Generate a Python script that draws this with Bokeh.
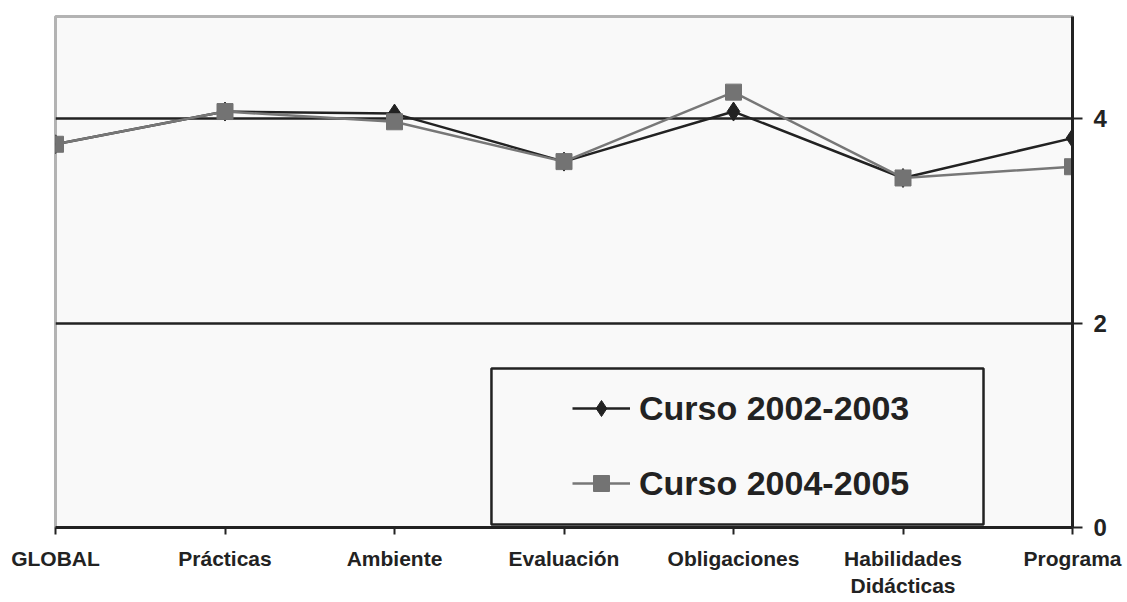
from bokeh.plotting import figure
from bokeh.models import Range1d, FixedTicker, ColumnDataSource, Legend, LegendItem, BoxAnnotation
from bokeh.embed import file_html
from bokeh.resources import INLINE

categories = ["GLOBAL", "Prácticas", "Ambiente", "Evaluación", "Obligaciones",
              "Habilidades\nDidácticas", "Programa"]
curso_2002_2003 = [3.75, 4.07, 4.05, 3.58, 4.07, 3.42, 3.81]
curso_2004_2005 = [3.75, 4.07, 3.97, 3.58, 4.26, 3.42, 3.53]
y_ticks = [0, 2, 4]
series_names = ["Curso 2002-2003", "Curso 2004-2005"]

xs = list(range(len(categories)))

p = figure(width=1125, height=600, output_backend="svg", toolbar_location=None,
           x_range=Range1d(0, len(categories) - 1), y_range=Range1d(0, 5),
           y_axis_location="right",
           min_border_left=55, min_border_right=53, min_border_top=16, min_border_bottom=73)

p.background_fill_color = "#f9f9f9"
p.border_fill_color = "white"
p.outline_line_color = "#b3b3b3"
p.outline_line_width = 3

# axes
xa = p.xaxis[0]
xa.ticker = FixedTicker(ticks=xs)
xa.major_label_overrides = {i: c for i, c in enumerate(categories)}
xa.axis_line_color = "#222222"
xa.axis_line_width = 3
xa.major_tick_line_color = "#222222"
xa.major_tick_line_width = 2
xa.major_tick_out = 7
xa.major_tick_in = 0
xa.minor_tick_line_color = None
xa.major_label_text_font = "Liberation Sans"
xa.major_label_text_font_style = "bold"
xa.major_label_text_font_size = "21px"
xa.major_label_text_color = "#222222"
xa.major_label_standoff = 12

ya = p.yaxis[0]
ya.ticker = FixedTicker(ticks=y_ticks)
ya.axis_line_color = "#222222"
ya.axis_line_width = 3
ya.major_tick_line_color = "#222222"
ya.major_tick_line_width = 2
ya.major_tick_out = 10
ya.major_tick_in = 0
ya.minor_tick_line_color = None
ya.major_label_text_font = "Liberation Sans"
ya.major_label_text_font_style = "bold"
ya.major_label_text_font_size = "24px"
ya.major_label_text_color = "#222222"
ya.major_label_standoff = 11

p.xgrid.grid_line_color = None
p.ygrid.ticker = FixedTicker(ticks=y_ticks)
p.ygrid.grid_line_color = "#222222"
p.ygrid.grid_line_width = 2.5

src = ColumnDataSource(dict(x=xs, a=curso_2002_2003, b=curso_2004_2005))

l1 = p.line("x", "a", source=src, line_color="#222222", line_width=2.5)
m1 = p.scatter("x", "a", source=src, marker="diamond", size=19,
               fill_color="#222222", line_color="#222222")
l2 = p.line("x", "b", source=src, line_color="#777777", line_width=2.5)
m2 = p.scatter("x", "b", source=src, marker="square", size=16,
               fill_color="#737373", line_color="#737373")

# legend frame
box = BoxAnnotation(left=2.572, right=5.475, bottom=0.03, top=1.556,
                    fill_color="#f9f9f9", fill_alpha=1.0,
                    line_color="#222222", line_alpha=1.0, line_width=2.5,
                    level="annotation")
p.add_layout(box)

legend = Legend(items=[LegendItem(label=series_names[0], renderers=[l1, m1]),
                       LegendItem(label=series_names[1], renderers=[l2, m2])],
                location=(517, 24), padding=0, margin=0,
                glyph_width=58, glyph_height=40, label_height=40, spacing=35,
                label_standoff=9,
                label_text_font="Liberation Sans", label_text_font_style="bold",
                label_text_font_size="34px", label_text_color="#222222",
                border_line_alpha=0, background_fill_alpha=0)
p.add_layout(legend, "center")

open("out.html", "w").write(file_html(p, INLINE))
